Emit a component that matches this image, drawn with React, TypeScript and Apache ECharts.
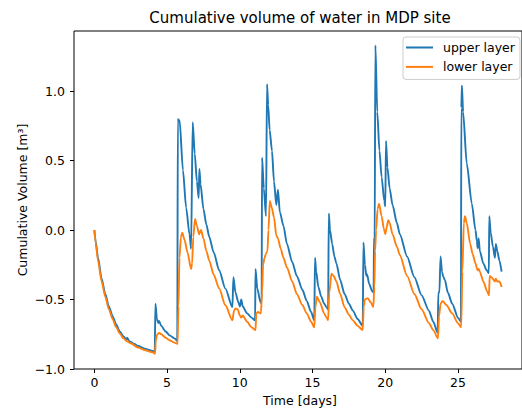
import React, { useEffect, useRef } from "react";
import * as echarts from "echarts";

const chartTitle = "Cumulative volume of water in MDP site";
const xAxisTitle = "Time [days]";
const yAxisTitle = "Cumulative Volume [m³]";
const seriesNames = ["upper layer", "lower layer"];
const xTicks = [0, 5, 10, 15, 20, 25];
const yTicks = [-1.0, -0.5, 0.0, 0.5, 1.0];

const upperTime = [0, 0.1, 0.25, 0.5, 0.75, 1.0, 1.25, 1.5, 1.75, 2.0, 2.2, 2.25, 2.4, 2.75, 3.0, 3.5, 4.0, 4.15, 4.2, 4.3, 4.4, 4.45, 4.6, 4.9, 5.2, 5.52, 5.7, 5.74, 5.8, 5.86, 6.09, 6.31, 6.54, 6.65, 6.76, 6.9, 7.05, 7.17, 7.22, 7.3, 7.5, 7.7, 7.9, 8.2, 8.58, 9.0, 9.49, 9.56, 9.7, 9.9, 10.0, 10.1, 10.2, 10.5, 10.8, 11.05, 11.08, 11.2, 11.42, 11.5, 11.53, 11.65, 11.8, 11.87, 11.95, 12.05, 12.21, 12.35, 12.51, 12.62, 12.75, 13.0, 13.24, 13.6, 13.92, 14.3, 14.6, 14.9, 15.12, 15.17, 15.25, 15.4, 15.6, 15.8, 15.96, 16.07, 16.12, 16.2, 16.35, 16.5, 16.64, 16.9, 17.2, 17.5, 17.77, 18.1, 18.45, 18.5, 18.6, 18.7, 18.75, 18.9, 19.1, 19.2, 19.22, 19.27, 19.32, 19.45, 19.6, 19.75, 19.93, 20.0, 20.05, 20.15, 20.3, 20.5, 20.8, 21.0, 21.5, 22.0, 22.5, 23.0, 23.3, 23.6, 23.65, 23.72, 23.8, 23.9, 24.0, 24.1, 24.3, 24.6, 25.0, 25.2, 25.23, 25.27, 25.35, 25.6, 25.95, 26.2, 26.3, 26.35, 26.42, 26.5, 26.74, 26.97, 27.12, 27.15, 27.25, 27.4, 27.54, 27.6, 27.7, 27.85, 28.0];
const upperVolume = [0, -0.09, -0.2, -0.35, -0.46, -0.55, -0.62, -0.68, -0.73, -0.765, -0.79, -0.775, -0.8, -0.82, -0.835, -0.855, -0.87, -0.875, -0.53, -0.64, -0.67, -0.655, -0.69, -0.73, -0.76, -0.78, -0.8, 0.8, 0.78, 0.79, 0.43, 0.16, -0.03, -0.135, 0.775, 0.55, 0.35, 0.23, 0.44, 0.33, 0.15, 0.04, -0.05, -0.16, -0.29, -0.42, -0.555, -0.34, -0.45, -0.52, -0.55, -0.5, -0.55, -0.6, -0.63, -0.65, -0.28, -0.42, -0.52, -0.53, 0.52, 0.3, 0.1, 1.05, 0.9, 0.72, 0.57, 0.35, 0.18, 0.29, 0.13, 0.03, -0.1, -0.23, -0.33, -0.43, -0.51, -0.59, -0.65, -0.2, -0.3, -0.41, -0.48, -0.53, -0.555, -0.57, 0.12, 0.0, -0.1, -0.19, -0.24, -0.36, -0.46, -0.53, -0.58, -0.64, -0.69, -0.09, -0.25, -0.33, -0.32, -0.39, -0.44, -0.45, -0.06, -0.1, 1.33, 0.85, 0.57, 0.38, 0.21, 0.17, 0.64, 0.45, 0.3, 0.18, 0.05, -0.03, -0.19, -0.34, -0.47, -0.58, -0.66, -0.74, -0.45, -0.45, -0.19, -0.3, -0.34, -0.36, -0.45, -0.53, -0.63, -0.66, 0.88, 1.04, 0.85, 0.48, 0.19, 0.0, -0.08, -0.13, -0.06, -0.15, -0.24, -0.29, -0.31, 0.1, -0.02, -0.12, -0.2, -0.1, -0.15, -0.22, -0.3];

const lowerTime = [0, 0.1, 0.25, 0.5, 0.75, 1.0, 1.25, 1.5, 1.75, 2.0, 2.25, 2.5, 3.0, 3.5, 4.0, 4.17, 4.22, 4.3, 4.45, 4.6, 4.9, 5.2, 5.5, 5.72, 5.78, 5.85, 5.95, 6.04, 6.2, 6.4, 6.65, 6.72, 6.8, 6.92, 7.05, 7.2, 7.33, 7.5, 7.7, 7.9, 8.2, 8.58, 9.0, 9.49, 9.6, 9.7, 9.85, 10.0, 10.1, 10.2, 10.5, 10.8, 11.08, 11.13, 11.25, 11.45, 11.53, 11.6, 11.7, 11.8, 11.9, 11.97, 12.06, 12.2, 12.35, 12.51, 12.62, 12.8, 13.0, 13.24, 13.6, 13.92, 14.3, 14.6, 14.9, 15.12, 15.2, 15.3, 15.5, 15.8, 15.96, 16.07, 16.15, 16.3, 16.45, 16.64, 16.9, 17.2, 17.5, 17.77, 18.1, 18.45, 18.52, 18.6, 18.8, 19.0, 19.18, 19.25, 19.3, 19.37, 19.47, 19.57, 19.75, 19.9, 20.0, 20.1, 20.2, 20.3, 20.5, 20.8, 21.0, 21.5, 22.0, 22.5, 23.0, 23.3, 23.62, 23.7, 23.8, 23.95, 24.2, 24.6, 25.0, 25.22, 25.3, 25.4, 25.48, 25.6, 25.84, 26.0, 26.2, 26.35, 26.42, 26.5, 26.74, 27.0, 27.13, 27.18, 27.3, 27.54, 27.6, 27.7, 27.85, 28.0];
const lowerVolume = [0, -0.1, -0.22, -0.37, -0.48, -0.57, -0.64, -0.7, -0.745, -0.78, -0.8, -0.815, -0.845, -0.865, -0.88, -0.89, -0.8, -0.755, -0.74, -0.75, -0.775, -0.795, -0.81, -0.82, -0.55, -0.2, -0.05, -0.02, -0.07, -0.16, -0.28, -0.24, -0.05, 0.08, 0.03, -0.03, 0.0, -0.06, -0.15, -0.22, -0.32, -0.42, -0.54, -0.65, -0.58, -0.565, -0.57, -0.615, -0.63, -0.615, -0.66, -0.7, -0.72, -0.6, -0.59, -0.6, -0.45, -0.25, -0.2, -0.17, -0.15, 0.0, 0.21, 0.16, 0.09, -0.04, -0.06, -0.13, -0.2, -0.27, -0.37, -0.46, -0.54, -0.6, -0.66, -0.7, -0.55, -0.48, -0.52, -0.6, -0.63, -0.65, -0.45, -0.315, -0.33, -0.37, -0.46, -0.555, -0.61, -0.65, -0.69, -0.72, -0.55, -0.5, -0.49, -0.52, -0.555, -0.41, -0.15, 0.0, 0.15, 0.19, 0.1, 0.01, -0.03, 0.02, 0.07, 0.05, -0.03, -0.12, -0.18, -0.33, -0.46, -0.57, -0.67, -0.72, -0.78, -0.62, -0.53, -0.51, -0.54, -0.6, -0.67, -0.7, -0.3, 0.05, 0.1, 0.05, -0.1, -0.17, -0.24, -0.29, -0.28, -0.3, -0.37, -0.44, -0.47, -0.33, -0.34, -0.37, -0.35, -0.37, -0.37, -0.41];

const FONT = "DejaVu Sans";

function pairs(t: number[], v: number[]) {
  return t.map((x, i) => [x, v[i]]);
}

export default function App() {
  const ref = useRef<HTMLDivElement>(null);
  useEffect(() => {
    if (!ref.current) return;
    const chart = echarts.init(ref.current, null, { renderer: "svg" });
    const fmtMinus = (v: number) => v.toFixed(1).replace("-", "\u2212");
    chart.setOption({
      animation: false,
      backgroundColor: "#ffffff",
      grid: {
        left: 74,
        top: 31,
        width: 453,
        height: 338,
        show: true,
        borderColor: "#000000",
        borderWidth: 1,
        backgroundColor: "transparent",
      },
      xAxis: {
        type: "value",
        min: -1.4,
        max: 29.4,
        axisLine: { show: false, onZero: false },
        splitLine: { show: false },
        axisTick: {
          show: true,
          inside: false,
          customValues: xTicks,
          length: 4,
          lineStyle: { color: "#000", width: 1 },
        },
        axisLabel: {
          customValues: xTicks,
          margin: 7,
          fontFamily: FONT,
          fontSize: 12.5,
          color: "#000",
          formatter: (v: number) => String(v),
        },
      },
      yAxis: {
        type: "value",
        min: -1.0,
        max: 1.432,
        axisLine: { show: false, onZero: false },
        splitLine: { show: false },
        axisTick: {
          show: true,
          inside: false,
          customValues: yTicks,
          length: 4,
          lineStyle: { color: "#000", width: 1 },
        },
        axisLabel: {
          customValues: yTicks,
          margin: 9,
          fontFamily: FONT,
          fontSize: 12.5,
          color: "#000",
          formatter: (v: number) => fmtMinus(v),
        },
      },
      legend: {
        left: 403,
        top: 37,
        orient: "vertical",
        itemWidth: 27,
        itemHeight: 2,
        itemGap: 4.4,
        padding: [3, 5, 5, 3],
        backgroundColor: "rgba(255,255,255,0.8)",
        borderColor: "#cccccc",
        borderWidth: 1,
        borderRadius: 3,
        icon: "rect",
        textStyle: {
          fontFamily: FONT,
          fontSize: 12.5,
          color: "#000",
          lineHeight: 15,
          padding: [0, 0, 0, 5],
        },
        data: seriesNames,
      },
      graphic: [
        {
          type: "text",
          x: 300,
          y: 18,
          style: {
            text: chartTitle,
            font: `15px "${FONT}"`,
            fill: "#000",
            align: "center",
            verticalAlign: "middle",
          },
        },
        {
          type: "text",
          x: 300,
          y: 400,
          style: {
            text: xAxisTitle,
            font: `12.5px "${FONT}"`,
            fill: "#000",
            align: "center",
            verticalAlign: "middle",
          },
        },
        {
          type: "text",
          x: 22,
          y: 200,
          rotation: Math.PI / 2,
          style: {
            text: yAxisTitle,
            font: `12.5px "${FONT}"`,
            fill: "#000",
            align: "center",
            verticalAlign: "middle",
          },
        },
      ],
      series: [
        {
          name: seriesNames[0],
          type: "line",
          data: pairs(upperTime, upperVolume),
          showSymbol: false,
          symbol: "none",
          smooth: 0.25,
          smoothMonotone: "x",
          color: "#1f77b4",
          lineStyle: { color: "#1f77b4", width: 1.9 },
          z: 2,
        },
        {
          name: seriesNames[1],
          type: "line",
          data: pairs(lowerTime, lowerVolume),
          showSymbol: false,
          symbol: "none",
          smooth: 0.25,
          smoothMonotone: "x",
          color: "#ff7f0e",
          lineStyle: { color: "#ff7f0e", width: 1.9 },
          z: 3,
        },
      ],
    });
    return () => chart.dispose();
  }, []);
  return (
    <div
      ref={ref}
      style={{ position: "absolute", left: 0, top: 0, width: 522, height: 411 }}
    />
  );
}
